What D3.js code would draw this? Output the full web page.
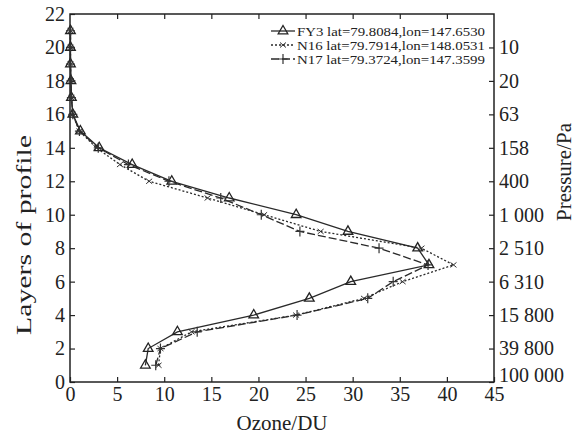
<!DOCTYPE html>
<html>
<head>
<meta charset="utf-8">
<script src="https://cdn.jsdelivr.net/npm/d3@7"></script>
<style>
  body { margin: 0; background: #fff; }
  text { font-family: "Liberation Serif", "Times New Roman", serif; fill: #222; }
</style>
</head>
<body>
<div class="canvas"></div>
<script>
// Data (layer 1..21)
const layers = d3.range(1, 22)
const fy3 = [8.0, 8.3, 11.4, 19.5, 25.4, 29.8, 38.1, 36.9, 29.5, 24.0, 16.9, 10.8, 6.6, 3.1, 1.1, 0.3, 0.15, 0.1, 0.05, 0.05, 0.05]
const n16 = [9.4, 9.6, 12.9, 24.0, 31.2, 35.3, 40.7, 37.3, 26.6, 20.6, 14.6, 8.4, 5.3, 2.8, 1.0, 0.3, 0.15, 0.1, 0.05, 0.05, 0.05]
const n17 = [9.1, 9.6, 13.5, 24.1, 31.6, 34.3, 38.0, 32.8, 24.4, 20.3, 16.0, 10.5, 6.2, 3.0, 1.0, 0.3, 0.15, 0.1, 0.05, 0.05, 0.05]
const legendLabels = [
  "FY3 lat=79.8084,lon=147.6530",
  "N16 lat=79.7914,lon=148.0531",
  "N17 lat=79.3724,lon=147.3599"
]
const layerTicks = d3.range(0, 23, 2)
const ozoneTicks = d3.range(0, 46, 5)
const pressureTicks = d3.range(0, 21, 2)
const pressureLabels = ["100 000", "39 800", "15 800", "6 310", "2 510", "1 000", "400", "158", "63", "20", "10"]

// Setting constants
const wWidth = 579
const wHeight = 437
const margin = {top: 14, right: 85, bottom: 55, left: 70}
const graphWidth = wWidth - margin.left - margin.right
const graphHeight = wHeight - margin.top - margin.bottom

const svg = d3.select('.canvas')
    .append('svg')
    .attr('width', wWidth)
    .attr('height', wHeight)

const graph = svg.append('g')
    .attr('transform', `translate(${margin.left}, ${margin.top})`)

// Scales
const xScale = d3.scaleLinear().domain([0, 45]).range([0, graphWidth])
const yScale = d3.scaleLinear().domain([0, 22]).range([graphHeight, 0])

// Axes (ticks pointing inward)
const styleAxis = g => {
  g.select('.domain').remove()
  g.selectAll('line').attr('stroke', '#222').attr('stroke-width', 1.2)
  g.selectAll('text').style('font-size', '20px').attr('fill', '#222')
}

graph.append('g')
    .attr('transform', `translate(0, ${graphHeight})`)
    .call(d3.axisBottom(xScale).tickValues(ozoneTicks).tickSize(-5).tickSizeOuter(0).tickPadding(5))
    .call(styleAxis)

graph.append('g')
    .call(d3.axisTop(xScale).tickValues(ozoneTicks.slice(1, -1)).tickSize(-5).tickSizeOuter(0).tickFormat(''))
    .call(styleAxis)

graph.append('g')
    .call(d3.axisLeft(yScale).tickValues(layerTicks).tickSize(-5).tickSizeOuter(0).tickPadding(5))
    .call(styleAxis)

const rightAxis = graph.append('g')
    .attr('transform', `translate(${graphWidth}, 0)`)
    .call(d3.axisRight(yScale).tickValues(pressureTicks).tickSize(-5).tickSizeOuter(0).tickPadding(5)
        .tickFormat((d, i) => pressureLabels[i]))
    .call(styleAxis)

// lowest pressure label sits a little above the bottom corner
rightAxis.selectAll('text').filter(d => d === 0).attr('dy', '-0.05em')

// Frame
graph.append('rect')
    .attr('width', graphWidth)
    .attr('height', graphHeight)
    .attr('fill', 'none')
    .attr('stroke', '#222')
    .attr('stroke-width', 1.5)

// Axis titles
svg.append('text')
    .attr('transform', `translate(31, 235) rotate(-90)`)
    .attr('text-anchor', 'middle')
    .attr('textLength', 200)
    .attr('lengthAdjust', 'spacingAndGlyphs')
    .style('font-size', '21px')
    .text('Layers of profile')

svg.append('text')
    .attr('transform', `translate(571, 172) rotate(-90)`)
    .attr('text-anchor', 'middle')
    .style('font-size', '21px')
    .text('Pressure/Pa')

svg.append('text')
    .attr('x', margin.left + xScale(22.5))
    .attr('y', 430)
    .attr('text-anchor', 'middle')
    .style('font-size', '21px')
    .text('Ozone/DU')

// Series
const series = [
  {values: fy3, dash: null, marker: 'triangle'},
  {values: n16, dash: '2,2', marker: 'x'},
  {values: n17, dash: '8,3', marker: 'plus'}
]

const line = d3.line()
    .x(d => xScale(d.x))
    .y(d => yScale(d.y))

const drawMarker = (g, type, x, y) => {
  if (type === 'triangle') {
    g.append('path')
        .attr('d', d3.symbol(d3.symbolTriangle, 40)())
        .attr('transform', `translate(${x}, ${y})`)
        .attr('fill', 'none')
        .attr('stroke', '#222')
        .attr('stroke-width', 1.3)
  } else if (type === 'x') {
    g.append('path')
        .attr('d', `M${x - 3},${y - 2.5}L${x + 3},${y + 2.5}M${x - 3},${y + 2.5}L${x + 3},${y - 2.5}`)
        .attr('stroke', '#333')
        .attr('stroke-width', 1)
  } else {
    g.append('path')
        .attr('d', `M${x - 4.5},${y}L${x + 4.5},${y}M${x},${y - 5}L${x},${y + 5}`)
        .attr('stroke', '#333')
        .attr('stroke-width', 1.2)
  }
}

series.forEach(s => {
  const pts = s.values.map((v, i) => ({x: v, y: layers[i]}))
  graph.append('path')
      .datum(pts)
      .attr('d', line)
      .attr('fill', 'none')
      .attr('stroke', '#2a2a2a')
      .attr('stroke-width', 1.3)
      .attr('stroke-dasharray', s.dash)
  pts.forEach(p => drawMarker(graph, s.marker, xScale(p.x), yScale(p.y)))
})

// Legend
const legend = svg.append('g')
series.forEach((s, i) => {
  const ly = 31 + i * 14
  legend.append('line')
      .attr('x1', 271).attr('x2', 295)
      .attr('y1', ly).attr('y2', ly)
      .attr('stroke', '#2a2a2a')
      .attr('stroke-width', 1.3)
      .attr('stroke-dasharray', s.dash)
  drawMarker(legend, s.marker, 283, ly)
  legend.append('text')
      .attr('x', 297)
      .attr('y', ly + 4.5)
      .attr('textLength', 188)
      .attr('lengthAdjust', 'spacingAndGlyphs')
      .style('font-size', '13.5px')
      .text(legendLabels[i])
})
</script>
</body>
</html>
